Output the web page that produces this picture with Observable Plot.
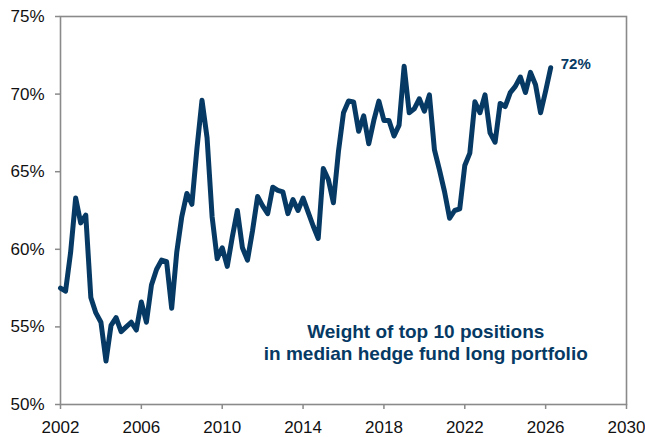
<!DOCTYPE html>
<html>
<head>
<meta charset="utf-8">
<script src="https://cdn.jsdelivr.net/npm/d3@7"></script>
<script src="https://cdn.jsdelivr.net/npm/@observablehq/plot@0.6"></script>
<style>
  html, body { margin: 0; padding: 0; background: #fff; }
  #chart svg { display: block; }
</style>
</head>
<body>
<div id="chart"></div>
<script>
// Quarterly series, first value = 2002 Q1
const startYear = 2002;
const values = [
  57.5, 57.3, 59.8, 63.3,
  61.7, 62.2, 56.9, 55.9,
  55.3, 52.8, 55.1, 55.6,
  54.7, 55.0, 55.3, 54.8,
  56.6, 55.3, 57.7, 58.7,
  59.3, 59.2, 56.2, 59.8,
  62.1, 63.6, 62.9, 66.5,
  69.6, 67.2, 62.1, 59.4,
  60.1, 58.9, 60.8, 62.5,
  60.1, 59.3, 61.2, 63.4,
  62.8, 62.3, 64.0, 63.8,
  63.7, 62.3, 63.2, 62.5,
  63.3, 62.4, 61.5, 60.7,
  65.2, 64.5, 63.0, 66.3,
  68.8, 69.55, 69.5, 67.6,
  68.6, 66.8, 68.3, 69.55,
  68.3, 68.3, 67.3, 68.0,
  71.8, 68.8, 69.05, 69.7,
  68.9, 69.95, 66.4, 65.1,
  63.7, 62.0, 62.5, 62.6,
  65.4, 66.2, 69.5, 68.8,
  69.95, 67.5, 66.9, 69.4,
  69.2, 70.1, 70.5, 71.1,
  70.1, 71.4, 70.6, 68.8,
  70.2, 71.7
];
const xTicks = [2002, 2006, 2010, 2014, 2018, 2022, 2026, 2030];
const yTicks = [50, 55, 60, 65, 70, 75];
const noteLines = ["Weight of top 10 positions", "in median hedge fund long portfolio"];

const data = values.map((v, i) => ({date: startYear + i / 4, value: v}));
const last = data[data.length - 1];
const navy = "#063a64";
const grey = "#8a8a8a";

const chart = Plot.plot({
  width: 645,
  height: 437,
  marginLeft: 60,
  marginRight: 19,
  marginTop: 16,
  marginBottom: 33,
  style: {fontFamily: "'Liberation Sans', Arial, sans-serif", fontSize: "17px", color: "#111", background: "#fff"},
  x: {domain: [2002, 2030], label: null},
  y: {domain: [50, 75], label: null},
  marks: [
    Plot.axisX({ticks: xTicks, tickFormat: d => String(d), tickSize: 5, tickPadding: 11, stroke: grey, strokeWidth: 1.5, color: "#111", label: null}),
    Plot.axisY({ticks: yTicks, tickFormat: d => d + "%", tickSize: 5, tickPadding: 11, stroke: grey, strokeWidth: 1.5, color: "#111", label: null}),
    Plot.frame({stroke: grey, strokeWidth: 1.6}),
    Plot.line(data, {x: "date", y: "value", stroke: navy, strokeWidth: 5, strokeLinejoin: "round", strokeLinecap: "round"}),
    Plot.text([last], {x: "date", y: "value", text: d => Math.round(d.value) + "%", textAnchor: "start", dx: 10, dy: -4, fill: navy, fontWeight: "bold", fontSize: 15}),
    Plot.text([noteLines[0]], {x: 2020.07, y: 54.7, text: d => d, textAnchor: "middle", lineAnchor: "middle", fill: navy, fontWeight: "bold", fontSize: 19}),
    Plot.text([noteLines[1]], {x: 2020.07, y: 53.29, text: d => d, textAnchor: "middle", lineAnchor: "middle", fill: navy, fontWeight: "bold", fontSize: 19})
  ]
});
document.getElementById("chart").appendChild(chart);
</script>
</body>
</html>
